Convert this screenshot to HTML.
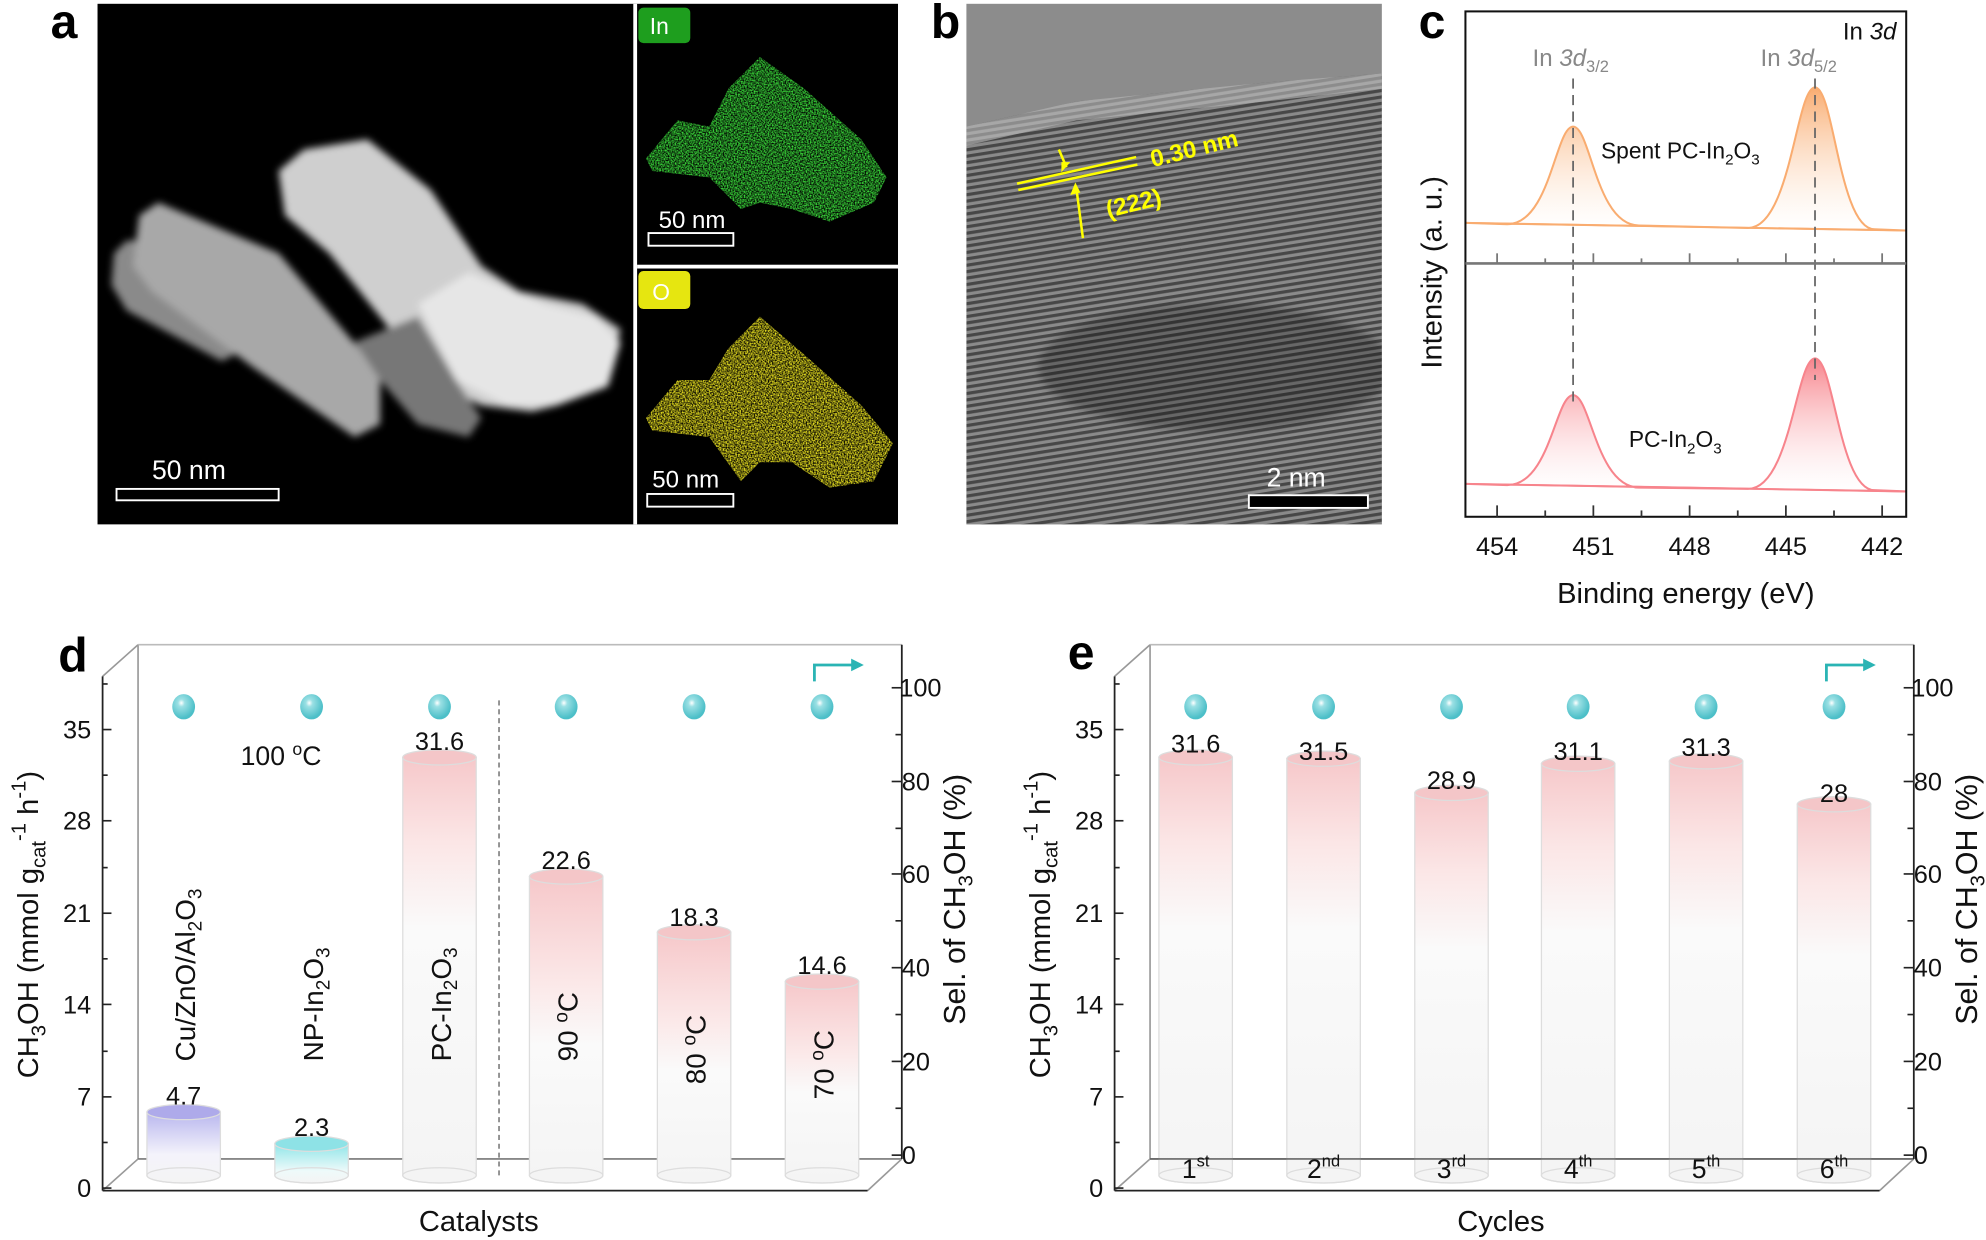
<!DOCTYPE html>
<html><head><meta charset="utf-8"><style>
html,body{margin:0;padding:0;background:#fff}
svg{display:block}
text{font-family:"Liberation Sans",Arial,sans-serif}
</style></head><body>
<svg width="1986" height="1240" viewBox="0 0 1568 979" preserveAspectRatio="none" xmlns="http://www.w3.org/2000/svg">
<defs>
<filter id="blur3"><feGaussianBlur stdDeviation="3"/></filter>
<filter id="noiseG" x="0" y="0" width="100%" height="100%">
<feTurbulence type="fractalNoise" baseFrequency="0.9" numOctaves="1" seed="3" result="n"/>
<feColorMatrix in="n" type="matrix" values="0 0 0 0 0  0 0 0 0 0  0 0 0 0 0  0 0 0 -2.2 1.6" result="m"/>
<feComposite in="SourceGraphic" in2="m" operator="in"/>
</filter>
<pattern id="stripes" width="400" height="5" patternUnits="userSpaceOnUse" patternTransform="rotate(-9)">
<rect width="400" height="5" fill="#8a8a8a"/><rect y="0" width="400" height="2.5" fill="#474747"/>
</pattern>
<linearGradient id="gTopO" x1="0" y1="0" x2="0" y2="1"><stop offset="0" stop-color="#f9ac70"/><stop offset="1" stop-color="#fff" stop-opacity="0.3"/></linearGradient>
<linearGradient id="gTopP" x1="0" y1="0" x2="0" y2="1"><stop offset="0" stop-color="#f7848c"/><stop offset="1" stop-color="#fff" stop-opacity="0.3"/></linearGradient>
<linearGradient id="barP" x1="0" y1="0" x2="0" y2="1"><stop offset="0" stop-color="#f6c8ca"/><stop offset="0.2" stop-color="#fbe6e6"/><stop offset="0.4" stop-color="#fafafa"/><stop offset="1" stop-color="#f4f4f4"/></linearGradient>
<linearGradient id="barPs" x1="0" y1="0" x2="0" y2="1"><stop offset="0" stop-color="#f6c8ca"/><stop offset="0.35" stop-color="#fbe8e8"/><stop offset="0.55" stop-color="#fafafa"/><stop offset="1" stop-color="#f4f4f4"/></linearGradient>
<linearGradient id="barV" x1="0" y1="0" x2="0" y2="1"><stop offset="0" stop-color="#b8b6ee"/><stop offset="0.6" stop-color="#f4f3fb"/><stop offset="1" stop-color="#f4f4f4"/></linearGradient>
<linearGradient id="barC" x1="0" y1="0" x2="0" y2="1"><stop offset="0" stop-color="#8fe5e8"/><stop offset="0.7" stop-color="#eefafa"/><stop offset="1" stop-color="#f4f4f4"/></linearGradient>
<radialGradient id="ball" cx="0.4" cy="0.35" r="0.6"><stop offset="0" stop-color="#ffffff"/><stop offset="0.25" stop-color="#9be0e4"/><stop offset="1" stop-color="#4cbfc8"/></radialGradient>
</defs>

<!-- ===== Panel a ===== -->
<rect x="77" y="3" width="632" height="411" fill="#000"/>
<rect x="500" y="3" width="3" height="411" fill="#fff"/>
<rect x="503" y="209" width="206" height="3" fill="#fff"/>
<g filter="url(#blur3)">
<polygon points="90,200 100,190 120,190 180,220 200,250 195,275 175,285 100,245 88,225" fill="#8a8a8a"/>
<polygon points="110,170 125,160 220,200 300,295 300,335 280,345 200,290 120,230 105,210" fill="#a8a8a8"/>
<polygon points="220,135 240,118 290,110 340,150 380,210 410,230 460,240 490,260 480,300 440,320 420,325 380,320 340,300 300,250 260,200 225,170" fill="#cfcfcf"/>
<polygon points="330,240 370,215 430,240 470,250 490,270 480,305 440,320 400,320 360,300" fill="#e6e6e6"/>
<polygon points="280,270 330,250 360,300 380,330 370,345 330,335 300,300" fill="#777"/>
</g>
<text x="120" y="378" font-size="21" fill="#fff">50 nm</text>
<rect x="92" y="386" width="128" height="9" fill="none" stroke="#fff" stroke-width="1.5"/>
<polygon points="510,125 535,95 560,100 575,70 600,45 635,70 680,110 700,140 690,160 655,175 625,165 600,160 585,165 560,140 515,135" fill="#3ad83a" filter="url(#noiseG)"/>
<rect x="504" y="6" width="41" height="28" rx="4" fill="#1e9e1e"/>
<text x="513" y="27" font-size="18" fill="#fff">In</text>
<text x="520" y="180" font-size="19" fill="#fff">50 nm</text>
<rect x="512" y="184" width="67" height="10" fill="none" stroke="#fff" stroke-width="1.5"/>
<polygon points="510,330 535,300 560,300 575,275 600,250 635,280 680,320 705,350 690,380 655,385 625,365 600,365 585,380 560,345 515,340" fill="#e8e020" filter="url(#noiseG)"/>
<rect x="504" y="214" width="41" height="30" rx="4" fill="#e6e610"/>
<text x="515" y="237" font-size="18" fill="#fff">O</text>
<text x="515" y="385" font-size="19" fill="#fff">50 nm</text>
<rect x="511" y="390" width="68" height="10" fill="none" stroke="#fff" stroke-width="1.5"/>
<text x="40" y="30" font-size="38" font-weight="bold" fill="#000">a</text>

<!-- ===== Panel b ===== -->
<rect x="763" y="3" width="328" height="411" fill="#8c8c8c"/>
<g>
<clipPath id="cb"><rect x="763" y="3" width="328" height="411"/></clipPath>
<g clip-path="url(#cb)">
<polygon points="763,100 850,80 1000,65 1091,58 1091,414 763,414" fill="url(#stripes)"/>
<polygon points="763,100 850,80 1000,65 1091,58 1091,70 1000,80 850,95 763,115" fill="#bbb" opacity="0.6"/>
<ellipse cx="960" cy="290" rx="140" ry="50" fill="#000" opacity="0.25" filter="url(#blur3)"/>
</g></g>
<g stroke="#ffff00" stroke-width="2" fill="#ffff00">
<line x1="803" y1="145" x2="897" y2="124"/><line x1="804" y1="150" x2="898" y2="130"/>
<line x1="836" y1="118" x2="842" y2="132"/><polygon points="838,136 845,128 838,128" stroke="none"/>
<line x1="855" y1="188" x2="850" y2="150"/><polygon points="849,144 845,154 853,152" stroke="none"/>
</g>
<text x="910" y="132" font-size="19" font-weight="bold" fill="#ffff00" transform="rotate(-14 910 132)">0.30 nm</text>
<text x="875" y="172" font-size="19" font-weight="bold" fill="#ffff00" transform="rotate(-14 875 172)">(222)</text>
<text x="1000" y="384" font-size="21" fill="#fff">2 nm</text>
<rect x="986" y="391" width="94" height="10" fill="#000" stroke="#fff" stroke-width="1.5"/>
<text x="735" y="30" font-size="38" font-weight="bold" fill="#000">b</text>

<!-- ===== Panel c ===== -->
<g>
<path d="M1157,176 L1190,177 C1224,177 1228,100 1242,100 C1256,100 1260,178 1294,178 L1380,180 C1414,180 1418,69 1433,69 C1448,69 1452,181 1480,181 L1505,182 Z" fill="url(#gTopO)" stroke="#f9ac70" stroke-width="1.6"/>
<line x1="1157" y1="176" x2="1505" y2="182" stroke="#f9ac70" stroke-width="1.4"/>
<path d="M1157,382 L1190,383 C1224,383 1228,312 1242,312 C1256,312 1260,384 1294,385 L1380,386 C1414,386 1418,283 1433,283 C1448,283 1452,387 1480,387 L1505,388 Z" fill="url(#gTopP)" stroke="#f7848c" stroke-width="1.6"/>
<line x1="1157" y1="382" x2="1505" y2="388" stroke="#f7848c" stroke-width="1.4"/>
</g>
<g stroke="#666" stroke-width="1.4" stroke-dasharray="8,5">
<line x1="1242" y1="62" x2="1242" y2="320"/><line x1="1433" y1="62" x2="1433" y2="300"/>
</g>
<rect x="1157" y="9" width="348" height="399" fill="none" stroke="#111" stroke-width="1.6"/>
<line x1="1157" y1="208" x2="1505" y2="208" stroke="#777" stroke-width="2"/>
<g stroke="#333" stroke-width="1.4">
<line x1="1182" y1="408" x2="1182" y2="399"/><line x1="1258" y1="408" x2="1258" y2="399"/><line x1="1334" y1="408" x2="1334" y2="399"/><line x1="1410" y1="408" x2="1410" y2="399"/><line x1="1486" y1="408" x2="1486" y2="399"/>
<line x1="1220" y1="408" x2="1220" y2="403"/><line x1="1296" y1="408" x2="1296" y2="403"/><line x1="1372" y1="408" x2="1372" y2="403"/><line x1="1448" y1="408" x2="1448" y2="403"/>
</g>
<g stroke="#777" stroke-width="1.4">
<line x1="1182" y1="208" x2="1182" y2="200"/><line x1="1258" y1="208" x2="1258" y2="200"/><line x1="1334" y1="208" x2="1334" y2="200"/><line x1="1410" y1="208" x2="1410" y2="200"/><line x1="1486" y1="208" x2="1486" y2="200"/>
<line x1="1220" y1="208" x2="1220" y2="204"/><line x1="1296" y1="208" x2="1296" y2="204"/><line x1="1372" y1="208" x2="1372" y2="204"/><line x1="1448" y1="208" x2="1448" y2="204"/>
</g>
<g font-size="20" fill="#111" text-anchor="middle">
<text x="1182" y="438">454</text><text x="1258" y="438">451</text><text x="1334" y="438">448</text><text x="1410" y="438">445</text><text x="1486" y="438">442</text>
</g>
<text x="1331" y="476" font-size="23" fill="#111" text-anchor="middle">Binding energy (eV)</text>
<text transform="translate(1138 215) rotate(-90)" font-size="23" fill="#111" text-anchor="middle">Intensity (a. u.)</text>
<text x="1210" y="52" font-size="19" fill="#888">In <tspan font-style="italic">3d</tspan><tspan font-size="13" dy="5">3/2</tspan></text>
<text x="1390" y="52" font-size="19" fill="#888">In <tspan font-style="italic">3d</tspan><tspan font-size="13" dy="5">5/2</tspan></text>
<text x="1455" y="31" font-size="19" fill="#111">In <tspan font-style="italic">3d</tspan></text>
<text x="1264" y="125" font-size="18" fill="#111">Spent PC-In<tspan font-size="12" dy="5">2</tspan><tspan dy="-5">O</tspan><tspan font-size="12" dy="5">3</tspan></text>
<text x="1286" y="353" font-size="18" fill="#111">PC-In<tspan font-size="12" dy="5">2</tspan><tspan dy="-5">O</tspan><tspan font-size="12" dy="5">3</tspan></text>
<text x="1120" y="30" font-size="38" font-weight="bold" fill="#000">c</text>

<!-- ===== Panel d ===== -->
<g stroke-width="1.3" fill="none">
<line x1="109" y1="509" x2="109" y2="915" stroke="#999"/>
<line x1="109" y1="915" x2="712" y2="915" stroke="#777"/>
<line x1="109" y1="509" x2="712" y2="509" stroke="#bbb"/>
<line x1="81" y1="534" x2="109" y2="509" stroke="#999"/>
<line x1="81" y1="940" x2="109" y2="915" stroke="#999"/>
<line x1="685" y1="940" x2="712" y2="915" stroke="#999"/>
</g>
<line x1="394" y1="553" x2="394" y2="928" stroke="#888" stroke-width="1.4" stroke-dasharray="4,3"/>
<g stroke="#ddd" stroke-width="1">
<path d="M116,878 L116,928 A29 6 0 0 0 174,928 L174,878 Z" fill="url(#barV)"/><ellipse cx="145" cy="878" rx="29" ry="6" fill="#aeaaea"/><ellipse cx="145" cy="928" rx="29" ry="6" fill="none"/>
<path d="M217,903 L217,928 A29 6 0 0 0 275,928 L275,903 Z" fill="url(#barC)"/><ellipse cx="246" cy="903" rx="29" ry="6" fill="#8ee2e6"/><ellipse cx="246" cy="928" rx="29" ry="6" fill="none"/>
<path d="M318,598 L318,928 A29 6 0 0 0 376,928 L376,598 Z" fill="url(#barP)"/><ellipse cx="347" cy="598" rx="29" ry="6" fill="#f4c6c8"/><ellipse cx="347" cy="928" rx="29" ry="6" fill="none"/>
<path d="M418,692 L418,928 A29 6 0 0 0 476,928 L476,692 Z" fill="url(#barPs)"/><ellipse cx="447" cy="692" rx="29" ry="6" fill="#f4c6c8"/><ellipse cx="447" cy="928" rx="29" ry="6" fill="none"/>
<path d="M519,736 L519,928 A29 6 0 0 0 577,928 L577,736 Z" fill="url(#barPs)"/><ellipse cx="548" cy="736" rx="29" ry="6" fill="#f4c6c8"/><ellipse cx="548" cy="928" rx="29" ry="6" fill="none"/>
<path d="M620,775 L620,928 A29 6 0 0 0 678,928 L678,775 Z" fill="url(#barPs)"/><ellipse cx="649" cy="775" rx="29" ry="6" fill="#f4c6c8"/><ellipse cx="649" cy="928" rx="29" ry="6" fill="none"/>
</g>
<g stroke="#222" stroke-width="1.4" fill="none">
<line x1="81" y1="534" x2="81" y2="940"/><line x1="81" y1="940" x2="685" y2="940"/>
<line x1="712" y1="509" x2="712" y2="915"/>
</g>
<g stroke="#222" stroke-width="1.3">
<line x1="81" y1="938" x2="88" y2="938"/><line x1="81" y1="866" x2="88" y2="866"/><line x1="81" y1="793" x2="88" y2="793"/><line x1="81" y1="721" x2="88" y2="721"/><line x1="81" y1="648" x2="88" y2="648"/><line x1="81" y1="576" x2="88" y2="576"/>
<line x1="81" y1="902" x2="85" y2="902"/><line x1="81" y1="830" x2="85" y2="830"/><line x1="81" y1="757" x2="85" y2="757"/><line x1="81" y1="685" x2="85" y2="685"/><line x1="81" y1="612" x2="85" y2="612"/><line x1="81" y1="540" x2="85" y2="540"/>
<line x1="712" y1="912" x2="704" y2="912"/><line x1="712" y1="838" x2="704" y2="838"/><line x1="712" y1="764" x2="704" y2="764"/><line x1="712" y1="690" x2="704" y2="690"/><line x1="712" y1="617" x2="704" y2="617"/><line x1="712" y1="543" x2="704" y2="543"/>
<line x1="712" y1="875" x2="707" y2="875"/><line x1="712" y1="801" x2="707" y2="801"/><line x1="712" y1="727" x2="707" y2="727"/><line x1="712" y1="654" x2="707" y2="654"/><line x1="712" y1="580" x2="707" y2="580"/>
</g>
<g font-size="20" fill="#111" text-anchor="end">
<text x="72" y="945">0</text><text x="72" y="873">7</text><text x="72" y="800">14</text><text x="72" y="728">21</text><text x="72" y="655">28</text><text x="72" y="583">35</text>
</g>
<g font-size="20" fill="#111">
<text x="712" y="919">0</text><text x="712" y="845">20</text><text x="712" y="771">40</text><text x="712" y="697">60</text><text x="712" y="624">80</text><text x="710" y="550">100</text>
</g>
<g fill="url(#ball)"><ellipse cx="145" cy="558" rx="9" ry="10"/><ellipse cx="246" cy="558" rx="9" ry="10"/><ellipse cx="347" cy="558" rx="9" ry="10"/><ellipse cx="447" cy="558" rx="9" ry="10"/><ellipse cx="548" cy="558" rx="9" ry="10"/><ellipse cx="649" cy="558" rx="9" ry="10"/></g>
<g stroke="#2ab4b4" stroke-width="2.2" fill="none"><polyline points="643,538 643,525 674,525"/></g>
<polygon points="682,525 672,520 672,530" fill="#2ab4b4"/>
<g font-size="20" fill="#111" text-anchor="middle">
<text x="145" y="872">4.7</text><text x="246" y="897">2.3</text><text x="347" y="592">31.6</text><text x="447" y="686">22.6</text><text x="548" y="731">18.3</text><text x="649" y="769">14.6</text>
</g>
<text x="190" y="604" font-size="21" fill="#111">100 <tspan font-size="14" dy="-8">o</tspan><tspan dy="8">C</tspan></text>
<g font-size="22" fill="#111">
<text transform="translate(154 838) rotate(-90)">Cu/ZnO/Al<tspan font-size="15" dy="5">2</tspan><tspan dy="-5">O</tspan><tspan font-size="15" dy="5">3</tspan></text>
<text transform="translate(255 838) rotate(-90)">NP-In<tspan font-size="15" dy="5">2</tspan><tspan dy="-5">O</tspan><tspan font-size="15" dy="5">3</tspan></text>
<text transform="translate(356 838) rotate(-90)">PC-In<tspan font-size="15" dy="5">2</tspan><tspan dy="-5">O</tspan><tspan font-size="15" dy="5">3</tspan></text>
<text transform="translate(456 838) rotate(-90)">90 <tspan font-size="15" dy="-8">o</tspan><tspan dy="8">C</tspan></text>
<text transform="translate(557 856) rotate(-90)">80 <tspan font-size="15" dy="-8">o</tspan><tspan dy="8">C</tspan></text>
<text transform="translate(658 868) rotate(-90)">70 <tspan font-size="15" dy="-8">o</tspan><tspan dy="8">C</tspan></text>
</g>
<text x="378" y="972" font-size="23" fill="#111" text-anchor="middle">Catalysts</text>
<text transform="translate(30 730) rotate(-90)" font-size="23" fill="#111" text-anchor="middle">CH<tspan font-size="16" dy="6">3</tspan><tspan dy="-6">OH (mmol g</tspan><tspan font-size="16" dy="6">cat</tspan><tspan font-size="16" dy="-16">-1</tspan><tspan dy="10"> h</tspan><tspan font-size="16" dy="-10">-1</tspan><tspan dy="10">)</tspan></text>
<text transform="translate(762 710) rotate(-90)" font-size="24" fill="#111" text-anchor="middle">Sel. of  CH<tspan font-size="16" dy="6">3</tspan><tspan dy="-6">OH (%)</tspan></text>
<text x="46" y="530" font-size="38" font-weight="bold" fill="#000">d</text>

<!-- ===== Panel e ===== -->
<g transform="translate(799 0)">
<g stroke-width="1.3" fill="none">
<line x1="109" y1="509" x2="109" y2="915" stroke="#999"/>
<line x1="109" y1="915" x2="712" y2="915" stroke="#777"/>
<line x1="109" y1="509" x2="712" y2="509" stroke="#bbb"/>
<line x1="81" y1="534" x2="109" y2="509" stroke="#999"/>
<line x1="81" y1="940" x2="109" y2="915" stroke="#999"/>
<line x1="685" y1="940" x2="712" y2="915" stroke="#999"/>
</g>
<g stroke="#ddd" stroke-width="1">
<path d="M116,598 L116,928 A29 6 0 0 0 174,928 L174,598 Z" fill="url(#barP)"/><ellipse cx="145" cy="598" rx="29" ry="6" fill="#f4c6c8"/><ellipse cx="145" cy="928" rx="29" ry="6" fill="none"/>
<path d="M217,599 L217,928 A29 6 0 0 0 275,928 L275,599 Z" fill="url(#barP)"/><ellipse cx="246" cy="599" rx="29" ry="6" fill="#f4c6c8"/><ellipse cx="246" cy="928" rx="29" ry="6" fill="none"/>
<path d="M318,626 L318,928 A29 6 0 0 0 376,928 L376,626 Z" fill="url(#barP)"/><ellipse cx="347" cy="626" rx="29" ry="6" fill="#f4c6c8"/><ellipse cx="347" cy="928" rx="29" ry="6" fill="none"/>
<path d="M418,603 L418,928 A29 6 0 0 0 476,928 L476,603 Z" fill="url(#barP)"/><ellipse cx="447" cy="603" rx="29" ry="6" fill="#f4c6c8"/><ellipse cx="447" cy="928" rx="29" ry="6" fill="none"/>
<path d="M519,601 L519,928 A29 6 0 0 0 577,928 L577,601 Z" fill="url(#barP)"/><ellipse cx="548" cy="601" rx="29" ry="6" fill="#f4c6c8"/><ellipse cx="548" cy="928" rx="29" ry="6" fill="none"/>
<path d="M620,635 L620,928 A29 6 0 0 0 678,928 L678,635 Z" fill="url(#barP)"/><ellipse cx="649" cy="635" rx="29" ry="6" fill="#f4c6c8"/><ellipse cx="649" cy="928" rx="29" ry="6" fill="none"/>
</g>
<line x1="109" y1="915" x2="712" y2="915" stroke="#666" stroke-width="1.3"/>
<g stroke="#222" stroke-width="1.4" fill="none">
<line x1="81" y1="534" x2="81" y2="940"/><line x1="81" y1="940" x2="685" y2="940"/>
<line x1="712" y1="509" x2="712" y2="915"/>
</g>
<g stroke="#222" stroke-width="1.3">
<line x1="81" y1="938" x2="88" y2="938"/><line x1="81" y1="866" x2="88" y2="866"/><line x1="81" y1="793" x2="88" y2="793"/><line x1="81" y1="721" x2="88" y2="721"/><line x1="81" y1="648" x2="88" y2="648"/><line x1="81" y1="576" x2="88" y2="576"/>
<line x1="81" y1="902" x2="85" y2="902"/><line x1="81" y1="830" x2="85" y2="830"/><line x1="81" y1="757" x2="85" y2="757"/><line x1="81" y1="685" x2="85" y2="685"/><line x1="81" y1="612" x2="85" y2="612"/><line x1="81" y1="540" x2="85" y2="540"/>
<line x1="712" y1="912" x2="704" y2="912"/><line x1="712" y1="838" x2="704" y2="838"/><line x1="712" y1="764" x2="704" y2="764"/><line x1="712" y1="690" x2="704" y2="690"/><line x1="712" y1="617" x2="704" y2="617"/><line x1="712" y1="543" x2="704" y2="543"/>
<line x1="712" y1="875" x2="707" y2="875"/><line x1="712" y1="801" x2="707" y2="801"/><line x1="712" y1="727" x2="707" y2="727"/><line x1="712" y1="654" x2="707" y2="654"/><line x1="712" y1="580" x2="707" y2="580"/>
</g>
<g font-size="20" fill="#111" text-anchor="end">
<text x="72" y="945">0</text><text x="72" y="873">7</text><text x="72" y="800">14</text><text x="72" y="728">21</text><text x="72" y="655">28</text><text x="72" y="583">35</text>
</g>
<g font-size="20" fill="#111">
<text x="712" y="919">0</text><text x="712" y="845">20</text><text x="712" y="771">40</text><text x="712" y="697">60</text><text x="712" y="624">80</text><text x="710" y="550">100</text>
</g>
<g fill="url(#ball)"><ellipse cx="145" cy="558" rx="9" ry="10"/><ellipse cx="246" cy="558" rx="9" ry="10"/><ellipse cx="347" cy="558" rx="9" ry="10"/><ellipse cx="447" cy="558" rx="9" ry="10"/><ellipse cx="548" cy="558" rx="9" ry="10"/><ellipse cx="649" cy="558" rx="9" ry="10"/></g>
<g stroke="#2ab4b4" stroke-width="2.2" fill="none"><polyline points="643,538 643,525 674,525"/></g>
<polygon points="682,525 672,520 672,530" fill="#2ab4b4"/>
<g font-size="20" fill="#111" text-anchor="middle">
<text x="145" y="594">31.6</text><text x="246" y="600">31.5</text><text x="347" y="623">28.9</text><text x="447" y="600">31.1</text><text x="548" y="597">31.3</text><text x="649" y="633">28</text>
</g>
<g font-size="21" fill="#111" text-anchor="middle">
<text x="145" y="930">1<tspan font-size="13" dy="-9">st</tspan></text>
<text x="246" y="930">2<tspan font-size="13" dy="-9">nd</tspan></text>
<text x="347" y="930">3<tspan font-size="13" dy="-9">rd</tspan></text>
<text x="447" y="930">4<tspan font-size="13" dy="-9">th</tspan></text>
<text x="548" y="930">5<tspan font-size="13" dy="-9">th</tspan></text>
<text x="649" y="930">6<tspan font-size="13" dy="-9">th</tspan></text>
</g>
<text x="386" y="972" font-size="23" fill="#111" text-anchor="middle">Cycles</text>
<text transform="translate(30 730) rotate(-90)" font-size="23" fill="#111" text-anchor="middle">CH<tspan font-size="16" dy="6">3</tspan><tspan dy="-6">OH (mmol g</tspan><tspan font-size="16" dy="6">cat</tspan><tspan font-size="16" dy="-16">-1</tspan><tspan dy="10"> h</tspan><tspan font-size="16" dy="-10">-1</tspan><tspan dy="10">)</tspan></text>
<text transform="translate(762 710) rotate(-90)" font-size="24" fill="#111" text-anchor="middle">Sel. of  CH<tspan font-size="16" dy="6">3</tspan><tspan dy="-6">OH (%)</tspan></text>
<text x="44" y="528" font-size="38" font-weight="bold" fill="#000">e</text>
</g>
</svg>
</body></html>
